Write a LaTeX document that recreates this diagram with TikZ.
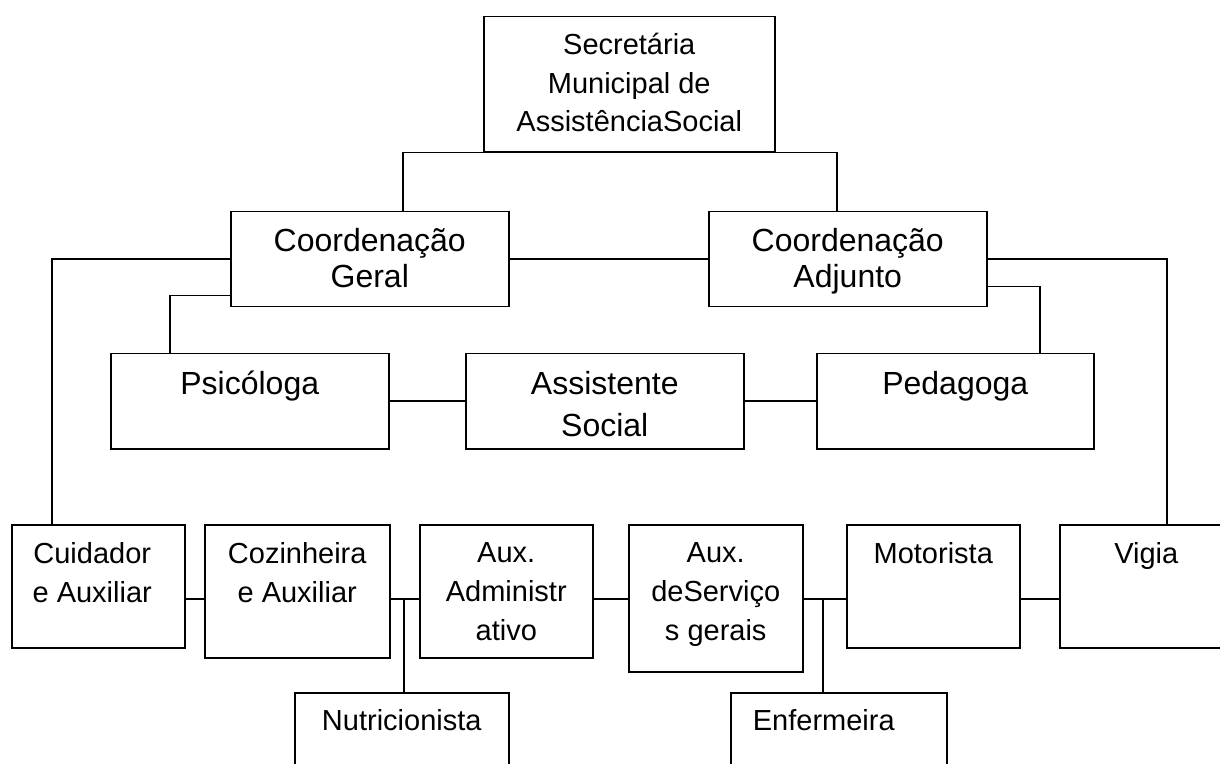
\documentclass[tikz,border=0pt]{standalone}
\usepackage{fontspec}
\setmainfont{Liberation Sans}
\usetikzlibrary{calc}

\begin{document}
\begin{tikzpicture}[x=0.5pt,y=-0.5pt,line width=0.75pt,
  box/.style={draw,rectangle,anchor=north west,inner sep=0pt},
  big/.style={align=center,inner sep=0pt,anchor=base,font=\fontsize{16}{18.2}\selectfont},
  small/.style={align=center,inner sep=0pt,anchor=base,font=\fontsize{14.5}{19.3}\selectfont}]
\path[use as bounding box,clip] (0,0) rectangle (1220,764);

\node[box,minimum width=145.5pt,minimum height=67.5pt] (sec) at (483,16) {};
\node[box,minimum width=139pt,minimum height=47.5pt] (geral) at (230,211) {};
\node[box,minimum width=139pt,minimum height=47.5pt] (adj) at (708,211) {};
\node[box,minimum width=139pt,minimum height=47.5pt] (psi) at (110,353) {};
\node[box,minimum width=139pt,minimum height=47.5pt] (ass) at (465,353) {};
\node[box,minimum width=138.5pt,minimum height=47.5pt] (ped) at (816,353) {};
\node[box,minimum width=86.5pt,minimum height=61.5pt] (cuid) at (11,524) {};
\node[box,minimum width=92.5pt,minimum height=66.5pt] (coz) at (204,524) {};
\node[box,minimum width=86.5pt,minimum height=66.5pt] (adm) at (419,524) {};
\node[box,minimum width=87pt,minimum height=73.5pt] (serv) at (628,524) {};
\node[box,minimum width=86.5pt,minimum height=61.5pt] (mot) at (846,524) {};
\node[box,minimum width=86.5pt,minimum height=61.5pt] (vig) at (1059,524) {};
\node[box,minimum width=107pt,minimum height=60pt] (nut) at (294,692) {};
\node[box,minimum width=108pt,minimum height=60pt] (enf) at (730,692) {};

\node[small] (sec-t) at ($(sec.north)+(0,116)$) {Secretária\\Municipal de\\AssistênciaSocial};
\node[big] (geral-t) at ($(geral.north)+(0,77)$) {Coordenação\\Geral};
\node[big] (adj-t) at ($(adj.north)+(0,77)$) {Coordenação\\Adjunto};
\node[big] (psi-t) at ($(psi.north)+(0,41)$) {Psicóloga};
\node[big,font=\fontsize{16}{21.4}\selectfont] (ass-t) at ($(ass.north)+(0,84)$) {Assistente\\Social};
\node[big] (ped-t) at ($(ped.north)+(0,41)$) {Pedagoga};
\node[small] (cuid-t) at ($(cuid.north)+(-6,78)$) {Cuidador\\e Auxiliar};
\node[small] (coz-t) at ($(coz.north)+(0,78)$) {Cozinheira\\e Auxiliar};
\node[small] (adm-t) at ($(adm.north)+(0,116)$) {Aux.\\Administr\\ativo};
\node[small] (serv-t) at ($(serv.north)+(0,116)$) {Aux.\\deServiço\\s gerais};
\node[small] (mot-t) at ($(mot.north)+(0,39)$) {Motorista};
\node[small] (vig-t) at ($(vig.north)+(0,39)$) {Vigia};
\node[small] (nut-t) at ($(nut.north)+(0,38)$) {Nutricionista};
\node[small] (enf-t) at ($(enf.north)+(-15,38)$) {Enfermeira};

\draw ($(geral.north)+(33,0)$) |- (sec.south) -| ($(adj.north)+(-11,0)$);
\draw (geral.east) -- (adj.west);
\draw (geral.west) -| ($(cuid.north west)+(41,0)$);
\draw ($(geral.south west)+(0,-12)$) -| ($(psi.north west)+(60,0)$);
\draw (adj.east) -| ($(vig.north west)+(108,0)$);
\draw ($(adj.south east)+(0,-21)$) -| ($(ped.north west)+(224,0)$);
\draw (psi.east) -- (ass.west);
\draw (ass.east) -- (ped.west);
\draw ($(cuid.north east)+(0,75)$) -- ($(coz.north west)+(0,75)$);
\draw ($(coz.north east)+(0,75)$) -- ($(adm.north west)+(0,75)$);
\draw ($(nut.north west)+(110,0)$) |- ($(coz.north east)+(0,75)$);
\draw ($(adm.north east)+(0,75)$) -- ($(serv.north west)+(0,75)$);
\draw ($(serv.north east)+(0,75)$) -- ($(mot.north west)+(0,75)$);
\draw ($(enf.north west)+(93,0)$) |- ($(serv.north east)+(0,75)$);
\draw ($(mot.north east)+(0,75)$) -- ($(vig.north west)+(0,75)$);
\end{tikzpicture}
\end{document}
